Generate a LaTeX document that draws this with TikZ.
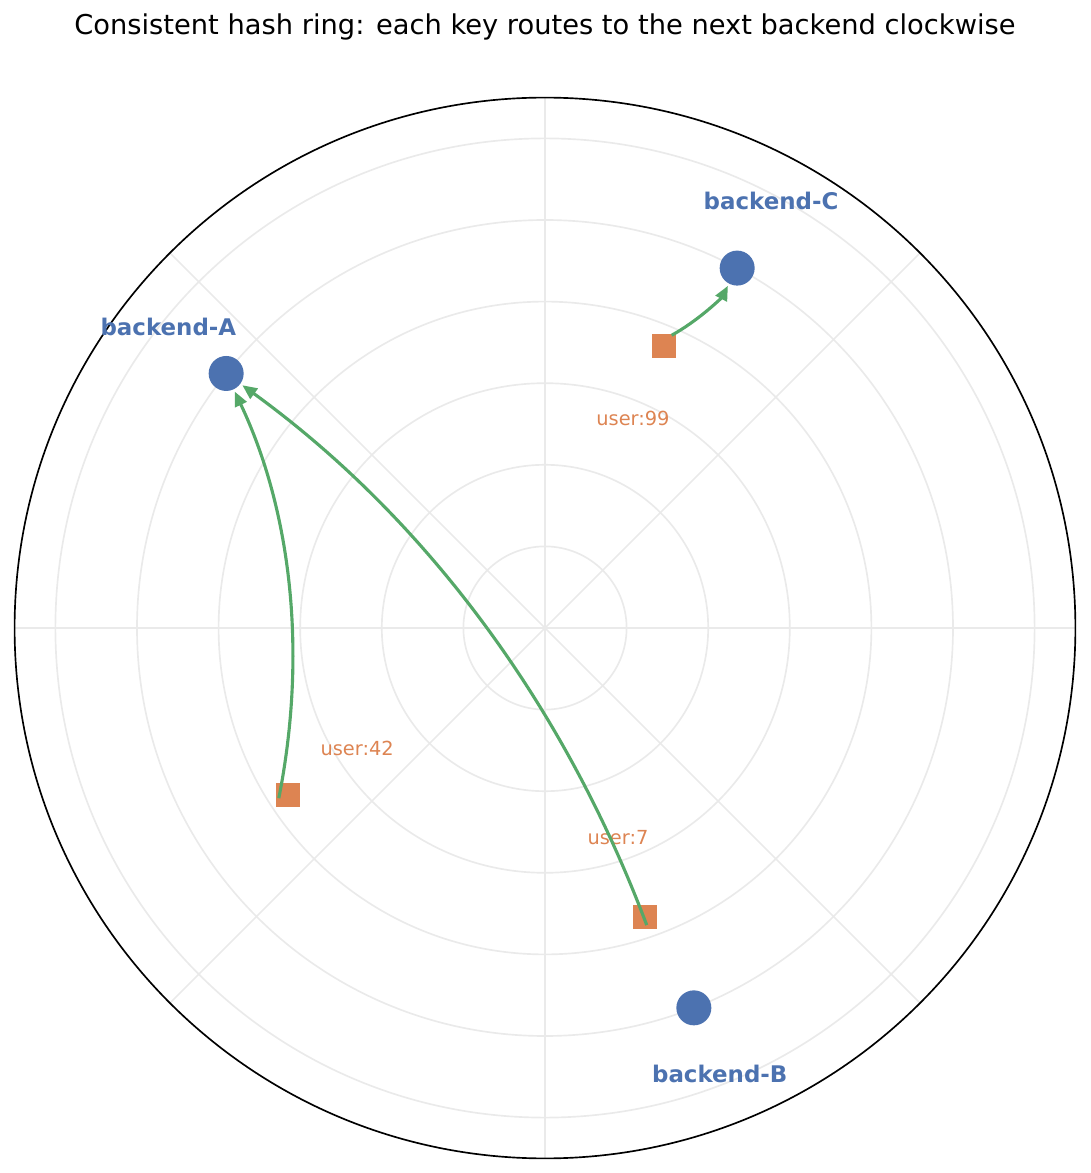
\documentclass[tikz,border=0pt]{standalone}
\usepackage{fontspec}
\setmainfont{DejaVu Sans}
\usetikzlibrary{arrows.meta,calc}
\definecolor{ringgrid}{RGB}{234,234,234}
\definecolor{nodeblue}{HTML}{4C72B0}
\definecolor{keyorange}{HTML}{DD8452}
\definecolor{routegreen}{HTML}{55A868}

\begin{document}
\begin{tikzpicture}[x=0.48pt, y=0.48pt,
    gridline/.style={draw=ringgrid, line width=0.8pt},
    backend/.style={circle, fill=nodeblue, inner sep=0pt, minimum size=16.8pt},
    keybox/.style={rectangle, fill=keyorange, inner sep=0pt, minimum size=11.5pt},
    backendlabel/.style={text=nodeblue, font=\fontsize{11}{13}\selectfont\bfseries},
    keylabel/.style={text=keyorange, font=\fontsize{9.3}{11}\selectfont},
    route/.style={draw=routegreen, line width=1.5pt, shorten >=1pt,
      -{Triangle[length=7pt,width=6pt]}}]
  \useasboundingbox (-545,-545) rectangle (545,628);
  \node[font=\fontsize{13.1}{15}\selectfont, anchor=base] (title) at (0,593)
    {Consistent hash ring: each key routes to the next backend clockwise};
  % polar grid
  \foreach \r in {1,...,6}
    \draw[gridline] (0,0) circle ({81.6*\r});
  \foreach \a in {0,45,...,315}
    \draw[gridline] (0,0) -- (\a:530.4);
  \draw[line width=0.8pt] (0,0) circle (530.4);
  % keys
  \node[keybox] (k7) at (-71:306) {};
  \node[keybox] (k42) at (213:306) {};
  \node[keybox] (k99) at (67.1:306) {};
  \node[keylabel] (l7) at (-70.8:222) {user:7};
  \node[keylabel] (l42) at (212.6:223) {user:42};
  \node[keylabel] (l99) at (67.2:227) {user:99};
  % backends
  \node[backend] (bA) at (141.4:408) {};
  \node[backend] (bB) at (-68.6:408) {};
  \node[backend] (bC) at (61.9:408) {};
  \node[backendlabel] (lA) at (141.4:482) {backend-A};
  \node[backendlabel] (lB) at (-68.6:479) {backend-B};
  \node[backendlabel] (lC) at (62.1:483) {backend-C};
  % routes (quadratic arcs)
  \coordinate (s7) at (-71.1:314);
  \coordinate (s42) at (212.6:316);
  \coordinate (s99) at (66.6:319);
  \coordinate (c7) at ($(s7)!.5!(bA)!.3!-90:(bA)$);
  \coordinate (c42) at ($(s42)!.5!(bA)!.33!-90:(bA)$);
  \coordinate (c99) at ($(s99)!.5!(bC)!.3!-90:(bC)$);
  \draw[route] (s7) .. controls ($(s7)!2/3!(c7)$) and ($(bA)!2/3!(c7)$) .. (bA);
  \draw[route] (s42) .. controls ($(s42)!2/3!(c42)$) and ($(bA)!2/3!(c42)$) .. (bA);
  \draw[route] (s99) .. controls ($(s99)!2/3!(c99)$) and ($(bC)!2/3!(c99)$) .. (bC);
\end{tikzpicture}
\end{document}
